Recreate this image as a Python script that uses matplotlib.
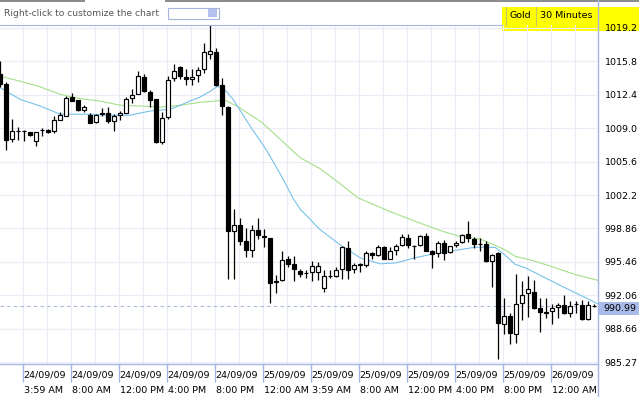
import matplotlib
matplotlib.use("Agg")
import matplotlib.pyplot as plt
from matplotlib.patches import Rectangle
from matplotlib.lines import Line2D
import matplotlib.transforms as mtransforms

# Gold, 30 minute candles (24/09/09 2:00 AM .. 26/09/09 1:30 AM)
opens = [1014.5, 1013.5, 1007.93, 1008.7, 1008.7, 1008.6, 1007.68, 1008.8, 1008.8, 1008.7,
         1009.9, 1010.3, 1012.15, 1011.85, 1010.85, 1010.4, 1009.7, 1010.5, 1010.6, 1009.77,
         1010.37, 1010.6, 1012.08, 1012.5, 1014.23, 1012.65, 1011.95, 1007.6, 1010.2, 1014.13,
         1015.22, 1014.23, 1014.0, 1014.43, 1015.04, 1016.54, 1016.74, 1013.36, 1011.22, 998.63,
         999.16, 997.55, 996.7, 998.65, 998.0, 997.88, 993.45, 993.63, 995.77, 995.27,
         994.56, 994.35, 994.43, 994.43, 992.85, 994.0, 994.03, 994.75, 996.87, 994.7,
         995.2, 995.14, 996.37, 996.14, 996.95, 995.8, 996.7, 997.2, 997.88, 997.05,
         997.2, 998.05, 996.54, 996.32, 997.38, 996.42, 997.15, 997.48, 998.28, 997.81,
         997.28, 997.28, 995.54, 996.37, 989.17, 990.01, 988.18, 991.28, 992.28, 992.45,
         990.75, 990.3, 990.51, 990.85, 991.12, 990.24, 991.15, 991.12, 989.67, 991.0]
highs = [1015.8, 1013.7, 1009.94, 1009.1, 1008.8, 1008.65, 1008.65, 1009.0, 1008.95, 1010.3,
         1010.65, 1012.3, 1012.62, 1011.9, 1011.4, 1010.6, 1010.5, 1011.05, 1011.2, 1010.5,
         1010.75, 1012.2, 1013.0, 1014.8, 1014.47, 1012.9, 1012.0, 1010.7, 1014.36, 1015.54,
         1015.37, 1015.0, 1015.07, 1015.2, 1017.68, 1019.5, 1017.2, 1014.13, 1011.25, 1000.8,
         999.96, 998.89, 999.25, 999.96, 998.82, 997.9, 994.1, 996.58, 996.07, 996.07,
         994.77, 994.6, 995.57, 995.5, 994.6, 994.67, 994.93, 997.05, 997.58, 995.37,
         995.35, 996.52, 996.44, 997.18, 997.05, 996.93, 997.28, 998.25, 998.28, 997.2,
         998.23, 998.38, 996.67, 997.63, 997.68, 997.08, 997.63, 998.25, 999.59, 997.98,
         997.88, 997.58, 996.27, 996.47, 991.78, 990.24, 994.19, 993.56, 994.03, 993.59,
         991.85, 991.8, 991.18, 991.25, 992.12, 991.5, 991.48, 991.6, 991.52, 991.2]
lows = [1013.2, 1006.83, 1007.6, 1007.8, 1007.7, 1008.25, 1007.18, 1008.2, 1008.5, 1008.58,
        1009.84, 1010.25, 1011.75, 1010.77, 1010.7, 1009.55, 1009.6, 1010.3, 1009.6, 1008.77,
        1009.9, 1010.55, 1011.6, 1012.45, 1012.68, 1011.22, 1007.55, 1007.43, 1010.0, 1013.79,
        1014.0, 1013.4, 1013.36, 1013.76, 1014.63, 1016.04, 1013.35, 1010.34, 993.69, 993.78,
        997.2, 995.94, 995.94, 997.8, 996.98, 991.25, 992.3, 993.55, 994.96, 993.5,
        993.93, 993.8, 993.56, 993.6, 992.42, 993.86, 993.95, 993.76, 993.76, 994.3,
        994.4, 994.97, 995.77, 996.1, 995.74, 995.74, 996.2, 997.1, 996.87, 995.8,
        997.1, 996.57, 994.8, 995.97, 995.7, 996.37, 996.97, 997.38, 997.48, 996.87,
        996.57, 995.47, 992.9, 985.65, 988.2, 987.16, 987.23, 989.54, 989.91, 990.7,
        988.38, 989.74, 989.2, 989.74, 990.2, 989.91, 990.3, 989.6, 989.6, 990.9]
closes = [1013.5, 1007.83, 1008.7, 1008.75, 1008.72, 1008.3, 1008.6, 1008.82, 1008.65, 1009.84,
          1010.35, 1012.12, 1011.8, 1010.9, 1011.15, 1009.6, 1010.35, 1010.6, 1009.77, 1010.3,
          1010.6, 1012.0, 1012.42, 1014.33, 1012.8, 1011.88, 1007.6, 1010.1, 1013.96, 1014.82,
          1014.33, 1014.0, 1014.23, 1014.9, 1016.8, 1016.88, 1013.39, 1011.28, 998.61, 999.16,
          997.6, 996.7, 998.66, 998.15, 998.05, 993.36, 993.5, 995.64, 995.3, 994.7,
          994.19, 994.3, 995.04, 995.04, 994.03, 994.05, 994.69, 996.95, 994.62, 995.14,
          995.25, 996.37, 996.12, 996.95, 995.8, 996.6, 997.05, 997.95, 997.18, 997.1,
          998.05, 996.6, 996.3, 997.38, 996.37, 997.05, 997.38, 998.15, 997.88, 997.3,
          997.25, 995.54, 996.2, 989.29, 990.01, 988.23, 991.18, 992.12, 992.68, 990.77,
          990.41, 990.35, 990.75, 991.12, 990.24, 991.02, 991.2, 989.67, 991.12, 990.99]

# moving averages (candle index, price)
fast_ma_x = [0, 3.3, 6.6, 10, 15, 18.3, 21.6, 25, 28.3, 30, 31.6, 33.3, 35, 36.1, 37, 38.8,
             41.6, 44.4, 47.1, 48.8, 50, 53.3, 56.6, 60, 63.3, 66, 69.4, 72.5, 75.8, 79.1,
             81.3, 82.5, 84.1, 85.8, 87.5, 90.8, 94.1, 97.5, 99.6]
fast_ma_y = [1013.13, 1011.95, 1011.28, 1010.44, 1010.44, 1010.34, 1010.34, 1010.77, 1010.95,
             1011.35, 1011.78, 1012.18, 1012.78, 1013.23, 1013.23, 1011.95, 1009.27, 1006.76,
             1003.91, 1001.9, 1000.8, 998.74, 997.21, 995.87, 995.27, 995.37, 995.92, 996.32,
             996.63, 996.95, 996.95, 996.93, 996.17, 995.22, 994.87, 993.86, 992.85, 991.85,
             991.2]
slow_ma_x = [0, 3.3, 6.6, 10, 13.3, 16.6, 20, 23.3, 26.6, 30, 33.3, 35.8, 37.5, 39.6, 43.6,
             46.6, 50, 53.3, 56.6, 59.6, 65, 70, 73.8, 76.6, 80, 82.5, 84.1, 85.8, 89.1, 92.5,
             95.8, 99.6]
slow_ma_y = [1014.29, 1013.79, 1013.23, 1012.45, 1012.02, 1011.78, 1011.35, 1011.28, 1011.15,
             1011.35, 1011.65, 1011.78, 1011.85, 1011.22, 1009.61, 1007.93, 1006.02, 1004.92,
             1003.41, 1001.97, 1000.56, 999.39, 998.55, 998.05, 997.78, 997.15, 996.7, 996.04,
             995.54, 994.87, 994.19, 993.59]

price_ticks = [1019.2, 1015.8, 1012.4, 1009.0, 1005.6, 1002.2, 998.86, 995.46, 992.06, 988.66, 985.27]
price_labels = ["1019.2", "1015.8", "1012.4", "1009.0", "1005.6", "1002.2",
                "998.86", "995.46", "992.06", "988.66", "985.27"]

label_idx = [4, 12, 20, 28, 36, 44, 52, 60, 68, 76, 84, 92]
date_labels = ["24/09/09"] * 5 + ["25/09/09"] * 6 + ["26/09/09"]
time_labels = ["3:59 AM", "8:00 AM", "12:00 PM", "4:00 PM", "8:00 PM", "12:00 AM",
               "3:59 AM", "8:00 AM", "12:00 PM", "4:00 PM", "8:00 PM", "12:00 AM"]
last_price = 990.99

W, H = 639, 397
GRID = "#ececf8"
AXIS = "#a4b6e2"
FONT = "DejaVu Sans"
FS = 6.8

fig = plt.figure(figsize=(W / 100, H / 100), dpi=100)
fig.patch.set_facecolor("white")

def fx(px):
    return px / W

def fy(py):
    return 1 - py / H

ax = fig.add_axes([0, fy(364), fx(598.3), (364 - 25) / H])
ax.set_facecolor("none")
ax.set_xlim(-0.05, 99.67)
ax.set_ylim(985.11, 1019.49)

# grid
for v in price_ticks:
    ax.axhline(v, color=GRID, lw=0.8, zorder=0)
grid_x = [3.73 + 4 * j for j in range(24)]
for gx in grid_x:
    ax.axvline(gx, color=GRID, lw=0.8, zorder=0)

# moving averages
ax.plot(slow_ma_x, slow_ma_y, color="#a6df8a", lw=0.8, zorder=1.5)
ax.plot(fast_ma_x, fast_ma_y, color="#78c2ea", lw=0.8, zorder=1.6)

# last price line
ax.axhline(last_price, color="#a8b8dc", lw=0.8, ls=(0, (3, 3)), zorder=1)

# candles
xs = list(range(len(opens)))
ax.vlines(xs, lows, highs, color="black", lw=0.9, zorder=2)
bottoms = [min(o, c) for o, c in zip(opens, closes)]
heights = [max(abs(c - o), 0.04) for o, c in zip(opens, closes)]
faces = ["white" if c >= o else "black" for o, c in zip(opens, closes)]
ax.bar(xs, heights, bottom=bottoms, width=0.62, color=faces, edgecolor="black",
       linewidth=0.85, zorder=3)

# axes styling
for s in ["top", "left"]:
    ax.spines[s].set_visible(False)
ax.spines["right"].set_visible(False)
ax.spines["bottom"].set_color(AXIS)
ax.spines["bottom"].set_linewidth(1.0)

ax.yaxis.tick_right()
ax.set_yticks(price_ticks)
ax.set_yticklabels(price_labels)
ax.tick_params(axis="y", length=0, pad=4.5, labelsize=FS, labelcolor="black")
for t in ax.get_yticklabels():
    t.set_fontfamily(FONT)

tick_pos = [i - 0.27 for i in label_idx]
ax.set_xticks(tick_pos)
ax.set_xticklabels([])
ax.tick_params(axis="x", length=13, width=1.0, color=AXIS, direction="out")

trans = mtransforms.blended_transform_factory(ax.transData, ax.transAxes)
for x, d, t in zip(tick_pos, date_labels, time_labels):
    ax.text(x + 0.15, (364 - 375.5) / 339, d, transform=trans, ha="left", va="center",
            fontsize=FS, family=FONT, color="black", clip_on=False)
    ax.text(x + 0.15, (364 - 390.5) / 339, t, transform=trans, ha="left", va="center",
            fontsize=FS, family=FONT, color="black", clip_on=False)

# header
fig.add_artist(Rectangle((fx(0), fy(2)), fx(85), 2 / H, transform=fig.transFigure,
                         facecolor="#8c8c8c", edgecolor="none"))
fig.add_artist(Rectangle((fx(165), fy(2)), fx(639 - 165), 2 / H, transform=fig.transFigure,
                         facecolor="#8c8c8c", edgecolor="none"))
fig.text(fx(4), fy(14), "Right-click to customize the chart", ha="left", va="center",
         fontsize=6.6, family=FONT, color="#555555")
fig.add_artist(Rectangle((fx(168.5), fy(18.5)), fx(51), 11 / H, transform=fig.transFigure,
                         facecolor="white", edgecolor="#a4b4dc", linewidth=0.8))
fig.add_artist(Rectangle((fx(208), fy(17)), fx(9), 8 / H, transform=fig.transFigure,
                         facecolor="#b4c2ee", edgecolor="none"))
fig.add_artist(Line2D([0, fx(502)], [fy(25), fy(25)], transform=fig.transFigure,
                      color=AXIS, lw=0.8))

# yellow instrument box (behind the transparent axes)
fig.add_artist(Rectangle((fx(502), fy(31)), fx(639 - 502), 24 / H, transform=fig.transFigure,
                         facecolor="#ffff00", edgecolor="none", zorder=-1))
for sx in [505.7, 536.3]:
    fig.add_artist(Line2D([fx(sx), fx(sx)], [fy(7), fy(25)], transform=fig.transFigure,
                          color="#c8c860", lw=0.8))
fig.text(fx(510), fy(15), "Gold", ha="left", va="center", fontsize=FS, family=FONT)
fig.text(fx(540.5), fy(15), "30 Minutes", ha="left", va="center", fontsize=FS, family=FONT)

# right axis line
fig.add_artist(Line2D([fx(598.3), fx(598.3)], [0, 1], transform=fig.transFigure,
                      color=AXIS, lw=1.0))

# last price badge
fig.add_artist(Rectangle((fx(598.8), fy(315)), fx(639 - 598.8), 13.5 / H,
                         transform=fig.transFigure, facecolor="#a9bbe8", edgecolor="none"))
fig.text(fx(603), fy(308.3), "990.99", ha="left", va="center", fontsize=FS, family=FONT)

fig.savefig("out.png", dpi=100)
plt.close(fig)
